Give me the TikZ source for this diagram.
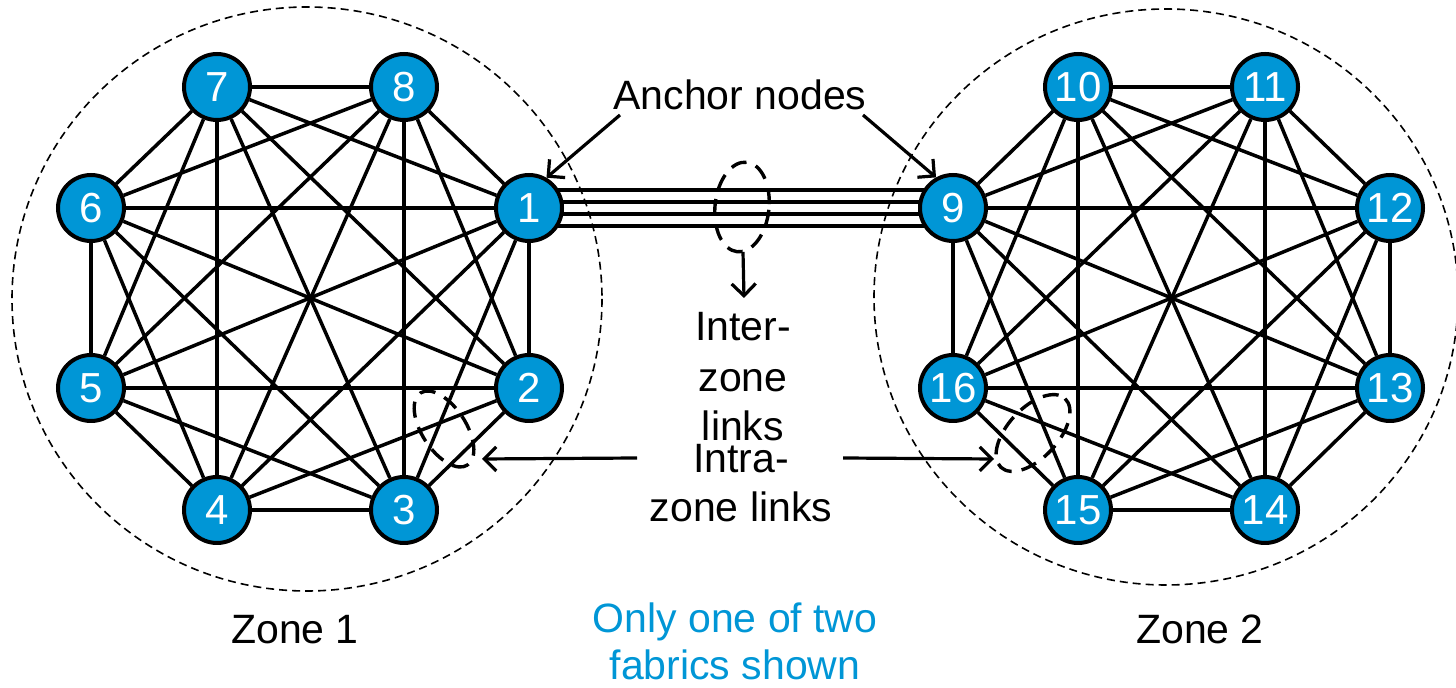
\documentclass[tikz,border=0pt]{standalone}
\usepackage{fontspec}
\setmainfont{Liberation Sans}
\usetikzlibrary{arrows.meta,backgrounds}
\definecolor{nodeblue}{RGB}{0,150,214}
\begin{document}
\begin{tikzpicture}[x=0.5pt,y=-0.5pt,
  vtx/.style={circle, draw=black, line width=2pt, fill=nodeblue, minimum size=33pt,
    inner sep=0pt, text=white, font=\fontsize{21pt}{24pt}\selectfont},
  link/.style={line width=1.75pt},
  zonering/.style={dash pattern=on 4pt off 2.5pt, line width=0.8pt},
  grp/.style={dash pattern=on 8pt off 5pt, line width=1.7pt},
  lbl/.style={anchor=base, inner sep=0pt, font=\fontsize{20.5pt}{24pt}\selectfont},
  ptr/.style={line width=1.6pt, -{Straight Barb[length=6pt,width=12pt,line width=1.6pt]}}]
\useasboundingbox (0,0) rectangle (1456,688);

% zone boundaries
\draw[zonering] (307,299) ellipse [x radius=295, y radius=292];
\draw[zonering] (1166,297) ellipse [x radius=292, y radius=288];

% zone 1 nodes
\node[vtx] (n1) at (529,208) {1};
\node[vtx] (n2) at (529,388) {2};
\node[vtx] (n3) at (404,510) {3};
\node[vtx] (n4) at (217,510) {4};
\node[vtx] (n5) at (91,388) {5};
\node[vtx] (n6) at (91,208) {6};
\node[vtx] (n7) at (217,87) {7};
\node[vtx] (n8) at (404,87) {8};
% zone 2 nodes
\node[vtx] (n9) at (953,208) {9};
\node[vtx] (n10) at (1078,87) {10};
\node[vtx] (n11) at (1265,87) {11};
\node[vtx] (n12) at (1390,208) {12};
\node[vtx] (n13) at (1390,388) {13};
\node[vtx] (n14) at (1265,510) {14};
\node[vtx] (n15) at (1078,510) {15};
\node[vtx] (n16) at (953,388) {16};

% intra-zone full meshes
\foreach \i in {1,...,7}{
  \pgfmathtruncatemacro\k{\i+1}
  \foreach \j in {\k,...,8}{ \draw[link] (n\i) -- (n\j); }
}
\foreach \i in {9,...,15}{
  \pgfmathtruncatemacro\k{\i+1}
  \foreach \j in {\k,...,16}{ \draw[link] (n\i) -- (n\j); }
}

% inter-zone links
\begin{pgfonlayer}{background}
\foreach \d in {-9pt,-3pt,3pt,9pt}{
  \draw[link] ([yshift=\d]n1.center) -- ([yshift=\d]n9.center);
}
\end{pgfonlayer}

% group markers
\draw[grp, rotate around={-6:(742,207)}] (742,207) ellipse [x radius=27, y radius=45];
\draw[grp, rotate around={-57:(444,429)}] (444,429) ellipse [x radius=43, y radius=22];
\draw[grp, rotate around={47:(1033,433)}] (1033,433) ellipse [x radius=47, y radius=25];

% labels
\node[lbl] (anc) at (740,110) {Anchor nodes};
\node[lbl] (inter1) at (743,341) {Inter-};
\node[lbl] (inter2) at (743,392) {zone};
\node[lbl] (inter3) at (743,441) {links};
\node[lbl] (intra1) at (741,473) {Intra-};
\node[lbl] (intra2) at (741,522) {zone links};
\node[lbl] (z1) at (295,644) {Zone 1};
\node[lbl] (z2) at (1200,644) {Zone 2};
\node[lbl, text=nodeblue] (note1) at (735,633) {Only one of two};
\node[lbl, text=nodeblue] (note2) at (735,680) {fabrics shown};

% pointers
\coordinate (aL) at (620,115);
\coordinate (aR) at (863,115);
\draw[ptr] (aL) -- (n1.60);
\draw[ptr] (aR) -- (n9.119);
\coordinate (ieS) at (743,252);
\coordinate (ieT) at (744,298);
\draw[ptr] (ieS) -- (ieT);
\coordinate (iL) at (637,458);
\coordinate (iLT) at (482,459);
\coordinate (iR) at (843,458);
\coordinate (iRT) at (994,459);
\draw[ptr] (iL) -- (iLT);
\draw[ptr] (iR) -- (iRT);
\end{tikzpicture}
\end{document}
